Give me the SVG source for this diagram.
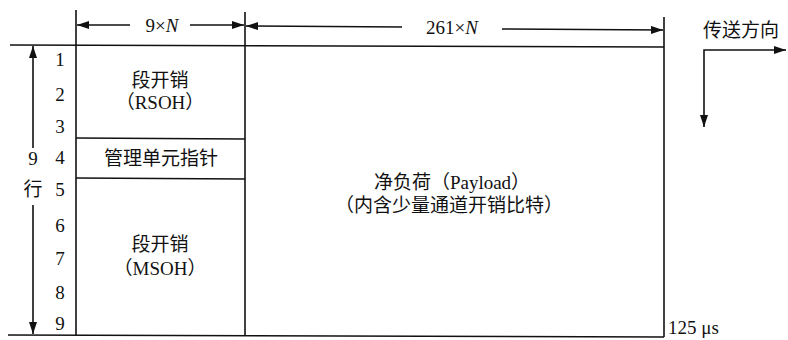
<svg xmlns="http://www.w3.org/2000/svg" width="788" height="340" viewBox="0 0 788 340">
<style>
.ln{stroke:#111;stroke-width:1.6;fill:none}
.t{font-family:"Liberation Serif","Noto Sans CJK SC",serif;fill:#111;font-size:19px}
.n{font-size:19px}
.c{text-anchor:middle}
</style>
<defs>
<marker id="ah" viewBox="0 0 12 8" refX="12" refY="4" markerWidth="12" markerHeight="8" markerUnits="userSpaceOnUse" orient="auto-start-reverse">
<path d="M0,0 L12,4 L0,8 Z" fill="#111"/>
</marker>
</defs>
<rect width="788" height="340" fill="#fff"/>
<g id="frame">
<line class="ln" x1="10" y1="45" x2="664" y2="47"/>
<line class="ln" x1="8" y1="335" x2="664" y2="337"/>
<line class="ln" x1="76" y1="10" x2="76" y2="335"/>
<line class="ln" x1="245" y1="12" x2="245" y2="336"/>
<line class="ln" x1="664" y1="17" x2="664" y2="337"/>
<line class="ln" x1="76" y1="138" x2="245" y2="139"/>
<line class="ln" x1="76" y1="178" x2="245" y2="179"/>
</g>
<g id="connectors">
<line class="ln" x1="77" y1="25" x2="130" y2="25" marker-start="url(#ah)"/>
<line class="ln" x1="190" y1="25" x2="244" y2="25" marker-end="url(#ah)"/>
<line class="ln" x1="246" y1="26" x2="402" y2="27" marker-start="url(#ah)"/>
<line class="ln" x1="502" y1="29" x2="663" y2="30" marker-end="url(#ah)"/>
<line class="ln" x1="33" y1="46" x2="33" y2="148" marker-start="url(#ah)"/>
<line class="ln" x1="33" y1="205" x2="33" y2="334" marker-end="url(#ah)"/>
<polyline class="ln" points="704,127 704,50 786,50" marker-start="url(#ah)" marker-end="url(#ah)"/>
</g>
<g id="labels">
<text class="t c" x="162" y="32">9×<tspan font-style="italic">N</tspan></text>
<text class="t c" x="452" y="34">261×<tspan font-style="italic">N</tspan></text>
<text class="t" x="703" y="37">传送方向</text>
<text class="t c" x="33" y="165">9</text>
<text class="t c" x="33" y="196">行</text>
<text class="t" x="668" y="334" font-size="17">125 μs</text>
</g>
<g id="rownums">
<text class="t c n" x="60" y="66">1</text>
<text class="t c n" x="60" y="101">2</text>
<text class="t c n" x="60" y="133">3</text>
<text class="t c n" x="60" y="164">4</text>
<text class="t c n" x="60" y="196">5</text>
<text class="t c n" x="60" y="232">6</text>
<text class="t c n" x="60" y="265">7</text>
<text class="t c n" x="60" y="299">8</text>
<text class="t c n" x="60" y="330">9</text>
</g>
<g id="rsoh">
<text class="t c" x="160" y="87">段开销</text>
<text class="t c" x="160" y="109">（RSOH）</text>
</g>
<g id="aupointer">
<text class="t c" x="161" y="165">管理单元指针</text>
</g>
<g id="msoh">
<text class="t c" x="160" y="251">段开销</text>
<text class="t c" x="160" y="275">（MSOH）</text>
</g>
<g id="payload">
<text class="t c" x="452" y="189">净负荷（Payload）</text>
<text class="t c" x="449" y="212">（内含少量通道开销比特）</text>
</g>
</svg>
